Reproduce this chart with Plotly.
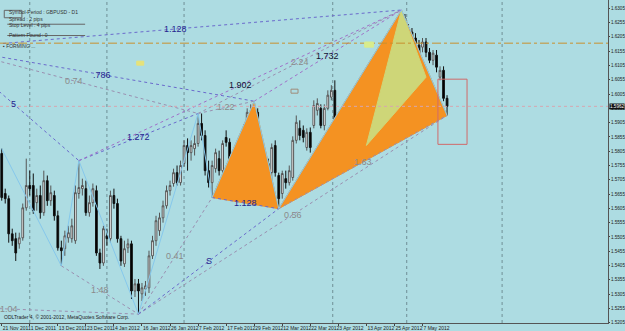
import plotly.graph_objects as go

# ---------------- data ----------------
tick_bars = [0, 8, 16, 24, 32, 40, 48, 56, 64, 72, 80, 88, 96, 104, 112, 120]
tick_dates = ["21 Nov 2011", "1 Dec 2011", "13 Dec 2011", "23 Dec 2011", "4 Jan 2012",
              "16 Jan 2012", "26 Jan 2012", "7 Feb 2012", "17 Feb 2012", "29 Feb 2012",
              "12 Mar 2012", "22 Mar 2012", "3 Apr 2012", "13 Apr 2012", "25 Apr 2012",
              "7 May 2012"]
price_ticks = [1.6305, 1.6255, 1.6205, 1.6155, 1.6105, 1.6055, 1.6005, 1.5955, 1.5905,
               1.5855, 1.5805, 1.5755, 1.5705, 1.5655, 1.5605, 1.5555, 1.5505, 1.5455,
               1.5405, 1.5355, 1.5305, 1.5255, 1.5205]
price_labels = ["%.4f" % v for v in price_ticks]

opens = [1.5797,1.5657,1.5639,1.5516,1.5499,1.5481,1.5502,1.5607,1.5685,1.5685,
         1.5625,1.5650,1.5590,1.5702,1.5632,1.5650,1.5579,1.5467,1.5464,1.5502,
         1.5499,1.5492,1.5657,1.5674,1.5674,1.5590,1.5625,1.5667,1.5449,1.5414,
         1.5509,1.5499,1.5650,1.5622,1.5499,1.5411,1.5467,1.5481,1.5316,1.5341,
         1.5306,1.5323,1.5327,1.5439,1.5492,1.5527,1.5572,1.5614,1.5667,1.5692,
         1.5730,1.5695,1.5762,1.5825,1.5800,1.5814,1.5832,1.5902,1.5860,1.5737,
         1.5695,1.5744,1.5779,1.5737,1.5853,1.5836,1.5762,1.5667,1.5730,1.5832,
         1.5885,1.5913,1.5941,1.5941,1.5836,1.5783,1.5762,1.5730,1.5825,1.5720,
         1.5657,1.5709,1.5695,1.5713,1.5843,1.5885,1.5878,1.5818,1.5871,1.5895,
         1.5948,1.5955,1.5895,1.5955,1.5994,1.6018,1.5913,1.5885,1.5832,1.5895,
         1.5878,1.5878,1.5923,1.5958,1.5853,1.5895,1.5923,1.6018,1.6046,1.6123,
         1.6123,1.6148,1.6159,1.6183,1.6229,1.6271,1.6236,1.6222,1.6201,1.6176,
         1.6169,1.6187,1.6151,1.6123,1.6141,1.6064,1.6088,1.5990]
closes = [1.5643,1.5639,1.5516,1.5492,1.5449,1.5502,1.5607,1.5685,1.5674,1.5597,
          1.5650,1.5590,1.5702,1.5632,1.5660,1.5579,1.5467,1.5457,1.5509,1.5520,
          1.5544,1.5660,1.5678,1.5685,1.5590,1.5625,1.5674,1.5449,1.5414,1.5534,
          1.5499,1.5650,1.5622,1.5499,1.5421,1.5464,1.5481,1.5316,1.5341,1.5316,
          1.5327,1.5334,1.5439,1.5492,1.5562,1.5572,1.5614,1.5667,1.5685,1.5730,
          1.5695,1.5755,1.5825,1.5800,1.5825,1.5832,1.5902,1.5860,1.5737,1.5695,
          1.5755,1.5800,1.5737,1.5832,1.5836,1.5762,1.5692,1.5737,1.5807,1.5888,
          1.5941,1.5941,1.5906,1.5836,1.5783,1.5762,1.5709,1.5818,1.5730,1.5639,
          1.5727,1.5695,1.5737,1.5843,1.5906,1.5860,1.5853,1.5871,1.5818,1.5965,
          1.5972,1.5895,1.5955,1.6001,1.6018,1.5913,1.5867,1.5836,1.5878,1.5867,
          1.5843,1.5923,1.5958,1.5850,1.5902,1.5923,1.6018,1.6053,1.6116,1.6099,
          1.6141,1.6130,1.6183,1.6229,1.6271,1.6229,1.6211,1.6194,1.6176,1.6141,
          1.6187,1.6151,1.6123,1.6148,1.6099,1.6088,1.5990,1.5962]
highs = [1.5814,1.5674,1.5650,1.5534,1.5520,1.5520,1.5622,1.5779,1.5737,1.5727,
         1.5674,1.5685,1.5737,1.5720,1.5685,1.5667,1.5597,1.5492,1.5527,1.5544,
         1.5569,1.5685,1.5772,1.5709,1.5702,1.5650,1.5692,1.5685,1.5464,1.5544,
         1.5534,1.5667,1.5674,1.5639,1.5509,1.5492,1.5499,1.5492,1.5358,1.5358,
         1.5344,1.5351,1.5457,1.5509,1.5579,1.5590,1.5632,1.5685,1.5702,1.5744,
         1.5755,1.5772,1.5843,1.5850,1.5843,1.5860,1.5937,1.5937,1.5878,1.5772,
         1.5772,1.5814,1.5807,1.5843,1.5878,1.5850,1.5779,1.5755,1.5821,1.5899,
         1.5955,1.5969,1.5980,1.5955,1.5850,1.5807,1.5779,1.5832,1.5843,1.5730,
         1.5737,1.5737,1.5755,1.5857,1.5930,1.5913,1.5895,1.5885,1.5888,1.5983,
         1.5990,1.5969,1.5969,1.6018,1.6036,1.6053,1.5930,1.5902,1.5892,1.5913,
         1.5895,1.5937,1.5972,1.5972,1.5913,1.5937,1.6029,1.6071,1.6130,1.6141,
         1.6159,1.6166,1.6201,1.6246,1.6299,1.6285,1.6250,1.6236,1.6218,1.6194,
         1.6201,1.6201,1.6166,1.6159,1.6159,1.6102,1.6102,1.6001]
lows = [1.5632,1.5622,1.5485,1.5474,1.5421,1.5464,1.5492,1.5597,1.5650,1.5586,
        1.5597,1.5569,1.5579,1.5614,1.5614,1.5562,1.5457,1.5404,1.5439,1.5485,
        1.5485,1.5481,1.5639,1.5650,1.5579,1.5576,1.5611,1.5439,1.5393,1.5404,
        1.5474,1.5485,1.5604,1.5485,1.5404,1.5400,1.5449,1.5288,1.5295,1.5235,
        1.5281,1.5299,1.5309,1.5428,1.5474,1.5509,1.5555,1.5604,1.5650,1.5681,
        1.5685,1.5685,1.5751,1.5737,1.5772,1.5790,1.5821,1.5843,1.5720,1.5678,
        1.5643,1.5730,1.5720,1.5723,1.5821,1.5751,1.5681,1.5657,1.5716,1.5821,
        1.5878,1.5895,1.5892,1.5821,1.5765,1.5737,1.5695,1.5702,1.5716,1.5604,
        1.5639,1.5674,1.5685,1.5702,1.5832,1.5843,1.5836,1.5807,1.5800,1.5885,
        1.5930,1.5885,1.5878,1.5948,1.5983,1.5902,1.5850,1.5821,1.5807,1.5850,
        1.5807,1.5867,1.5913,1.5836,1.5825,1.5885,1.5913,1.6011,1.6036,1.6081,
        1.6106,1.6116,1.6148,1.6169,1.6218,1.6211,1.6194,1.6176,1.6159,1.6130,
        1.6151,1.6134,1.6113,1.6106,1.6081,1.6053,1.5980,1.5930]
bars = list(range(len(opens)))

# zigzag pivots (bar index, price); the first two lie before the visible window
piv_bars = [-35, -15, 0, 17, 22, 39, 56, 60, 72, 79, 114, 127]
piv_px = [1.5271, 1.6166, highs[0], lows[17], highs[22], lows[39], highs[56], lows[60],
          highs[72], lows[79], highs[114], lows[127]]

# retracement links between pivots: (from pivot, to pivot, ratio label, colour)
links = [(0, 5, "1.04", "#8a8a8a"), (1, 4, "5", "#24248f"), (1, 6, "0.74", "#8a8a8a"),
         (1, 8, ".786", "#24248f"), (1, 10, "1.128", "#24248f"),
         (3, 5, "1.48", "#8a8a8a"), (4, 6, "1.272", "#24248f"), (5, 7, "0.41", "#8a8a8a"),
         (6, 8, "1.22", "#8a8a8a"), (7, 9, "1.128", "#24248f"), (8, 10, "1.732", "#111133"),
         (9, 11, "1.63", "#8a8a8a"), (4, 10, "1.902", "#111133"), (6, 10, "2.24", "#8a8a8a"),
         (5, 11, "0.56", "#8a8a8a"), (5, 9, "S", "#24248f")]
link_colors = {"#8a8a8a": "#9a8fb0", "#24248f": "#6a6acc", "#111133": "#a070c8"}

# harmonic pattern triangles (pivot numbers)
tri1 = [7, 8, 9]
big = [9, 10, 11]
inner_bars = [114, 104, 121]
inner_px = [highs[114], lows[104], 1.6064]

hline_level = 1.6183
last_price = closes[-1]
box_bars = [124.4, 132.7]
box_px = [1.5829, 1.6057]
grid_bars = [8, 30, 52, 94.4, 115.5, 142.7]
marker_boxes = [(82.5, 84.5, 1.6008, 1.6022, "rgba(0,0,0,0)", "#a08c7a"),
                (38.5, 40.5, 1.6106, 1.6120, "#e6e27a", "#e6e27a"),
                (103.5, 106, 1.6169, 1.6187, "#d8ec8c", "#d8ec8c")]

BG = "#ADDCE2"
FONT = "Liberation Sans, Arial, sans-serif"
fig = go.Figure()

def poly(xs, ys, color):
    fig.add_trace(go.Scatter(x=xs + [xs[0]], y=ys + [ys[0]], mode="lines", fill="toself",
                             fillcolor=color, line=dict(color=color, width=1),
                             hoverinfo="skip", showlegend=False))

poly([piv_bars[k] for k in tri1], [piv_px[k] for k in tri1], "rgb(244,146,34)")
poly([piv_bars[k] for k in big], [piv_px[k] for k in big], "rgb(244,146,34)")
poly(inner_bars, inner_px, "rgb(206,214,120)")

for a, b, t, c in links:
    fig.add_trace(go.Scatter(x=[piv_bars[a], piv_bars[b]], y=[piv_px[a], piv_px[b]], mode="lines",
                             line=dict(color=link_colors[c], width=1, dash="dot"),
                             hoverinfo="skip", showlegend=False))

fig.add_trace(go.Scatter(x=piv_bars[2:], y=piv_px[2:], mode="lines", line=dict(color="#86c8ec", width=1),
                         hoverinfo="skip", showlegend=False))

fig.add_trace(go.Candlestick(x=bars, open=opens, high=highs, low=lows, close=closes,
                             increasing=dict(line=dict(color="#555555", width=1), fillcolor="#ffffff"),
                             decreasing=dict(line=dict(color="#111111", width=1), fillcolor="#000000"),
                             whiskerwidth=0, showlegend=False, hoverinfo="skip"))

shapes = []
for g in grid_bars:
    shapes.append(dict(type="line", xref="x", yref="paper", x0=g, x1=g, y0=0, y1=1,
                       line=dict(color="#6f8f95", width=1, dash="dot"), layer="below"))
shapes.append(dict(type="line", xref="paper", yref="y", x0=0, x1=1, y0=hline_level, y1=hline_level,
                   line=dict(color="#c8902e", width=1, dash="dashdot")))
shapes.append(dict(type="line", xref="paper", yref="y", x0=0, x1=1, y0=last_price, y1=last_price,
                   line=dict(color="#d7a7b0", width=1, dash="dot")))
shapes.append(dict(type="rect", xref="x", yref="y", x0=box_bars[0], x1=box_bars[1], y0=box_px[0], y1=box_px[1],
                   line=dict(color="#d06a6a", width=1)))
for x0, x1, y0, y1, fc, lc in marker_boxes:
    shapes.append(dict(type="rect", xref="x", yref="y", x0=x0, x1=x1, y0=y0, y1=y1,
                       fillcolor=fc, line=dict(color=lc, width=1)))
shapes.append(dict(type="line", xref="paper", yref="paper", x0=0.012, x1=0.14, y0=0.925, y1=0.925,
                   line=dict(color="#666", width=1)))
shapes.append(dict(type="line", xref="paper", yref="paper", x0=0.012, x1=0.14, y0=0.89, y1=0.89,
                   line=dict(color="#666", width=1)))
shapes.append(dict(type="rect", xref="paper", yref="paper", x0=0.007, x1=0.036, y0=0.945, y1=0.968,
                   line=dict(color="#666", width=1)))

ann = []
for a, b, t, c in links:
    ann.append(dict(x=(piv_bars[a] + piv_bars[b]) / 2, y=(piv_px[a] + piv_px[b]) / 2, xref="x", yref="y",
                    text=t, showarrow=False, font=dict(family=FONT, size=9, color=c)))
ann.append(dict(x=1, y=last_price, xref="paper", yref="y", text="%.4f" % last_price, showarrow=False,
                xanchor="left", xshift=1, bgcolor="#111111", borderpad=0,
                font=dict(family=FONT, size=4.6, color="#ffffff")))
ann.append(dict(x=0.003, y=0.004, xref="paper", yref="paper",
                text="ODLTrader 4, \u00a9 2001-2012, MetaQuotes Software Corp.",
                showarrow=False, xanchor="left", yanchor="bottom", font=dict(family=FONT, size=5, color="#222")))
info = ["Symbol-Period : GBPUSD - D1", "Spread : 2 pips", "Stop Level : 4 pips", "Pattern Found : 0",
        "\u25aa FORMING ..."]
info_y = [0.977, 0.958, 0.939, 0.908, 0.872]
info_x = [0.012, 0.012, 0.012, 0.012, 0.002]
for t, xx, yy in zip(info, info_x, info_y):
    ann.append(dict(x=xx, y=yy, xref="paper", yref="paper", text=t, showarrow=False, xanchor="left",
                    font=dict(family=FONT, size=5, color="#333")))

fig.update_layout(
    width=625, height=331, margin=dict(l=0, r=17, t=0, b=8),
    plot_bgcolor=BG, paper_bgcolor=BG, shapes=shapes, annotations=ann,
    xaxis=dict(range=[-0.49, 172.9], tickvals=tick_bars, ticktext=tick_dates, ticks="outside", ticklen=2,
               tickangle=0, automargin=False,
               ticklabelposition="outside right", tickfont=dict(family=FONT, size=5, color="#222"),
               showgrid=False, zeroline=False, showline=True, linecolor="#555", rangeslider=dict(visible=False),
               fixedrange=True),
    yaxis=dict(range=[1.5204, 1.6334], side="right", tickvals=price_ticks, ticktext=price_labels,
               ticks="outside", ticklen=1, automargin=False, tickfont=dict(family=FONT, size=4.6, color="#222"),
               showgrid=False, zeroline=False, showline=True, linecolor="#555"),
)
fig.write_html("out.html")
